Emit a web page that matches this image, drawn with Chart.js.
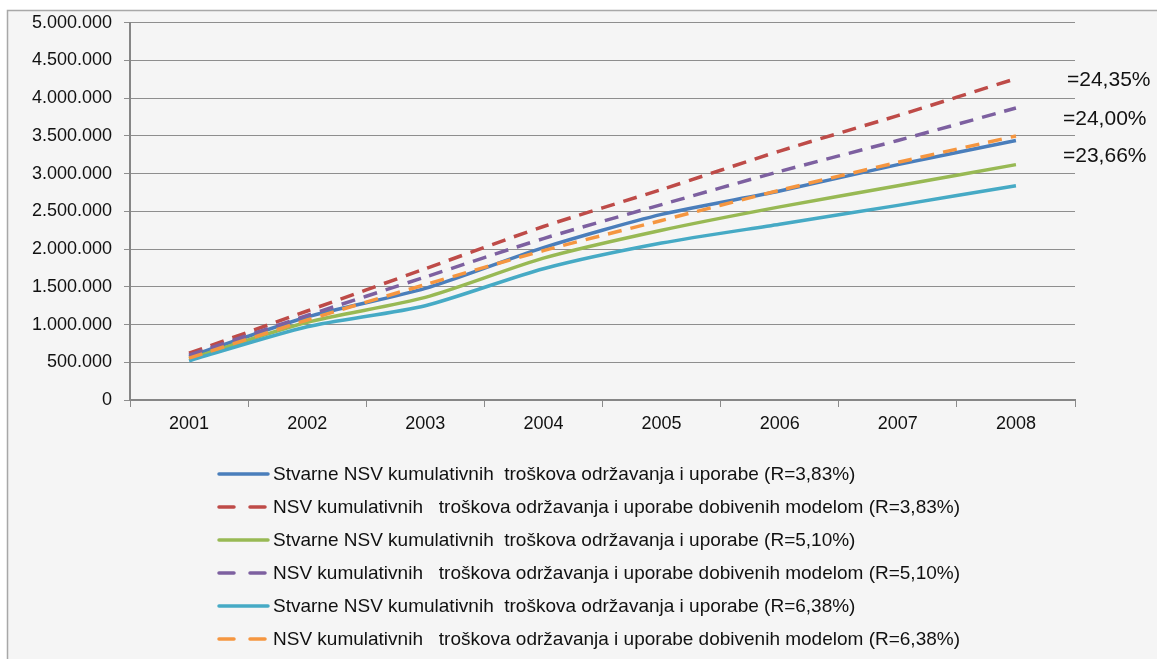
<!DOCTYPE html>
<html>
<head>
<meta charset="utf-8">
<title>NSV kumulativnih troškova</title>
<script src="https://cdn.jsdelivr.net/npm/chart.js@4.4.1/dist/chart.umd.min.js"></script>
<style>
    html, body { margin: 0; padding: 0; background: #ffffff; }
    #wrap { position: relative; width: 1157px; height: 659px; overflow: hidden; }
</style>
</head>
<body>
<div id="wrap"><canvas id="nsv-chart" width="1157" height="659"></canvas></div>
<script>
// godine
const years = ['2001', '2002', '2003', '2004', '2005', '2006', '2007', '2008'];

// stvarne vrijednosti i vrijednosti dobivene modelom, po stopi R
const stvarne383 = [575000, 1100000, 1480000, 2020000, 2460000, 2770000, 3120000, 3440000];
const model383   = [620000, 1180000, 1740000, 2300000, 2790000, 3300000, 3770000, 4260000];
const stvarne510 = [545000, 1030000, 1360000, 1880000, 2250000, 2560000, 2840000, 3120000];
const model510   = [595000, 1120000, 1630000, 2140000, 2590000, 3030000, 3440000, 3870000];
const stvarne638 = [520000, 970000, 1250000, 1740000, 2080000, 2330000, 2580000, 2840000];
const model638   = [555000, 1060000, 1530000, 1980000, 2380000, 2780000, 3150000, 3500000];

const seriesLabels = [
    'Stvarne NSV kumulativnih  troškova održavanja i uporabe (R=3,83%)',
    'NSV kumulativnih   troškova održavanja i uporabe dobivenih modelom (R=3,83%)',
    'Stvarne NSV kumulativnih  troškova održavanja i uporabe (R=5,10%)',
    'NSV kumulativnih   troškova održavanja i uporabe dobivenih modelom (R=5,10%)',
    'Stvarne NSV kumulativnih  troškova održavanja i uporabe (R=6,38%)',
    'NSV kumulativnih   troškova održavanja i uporabe dobivenih modelom (R=6,38%)'
];

// razlike na kraju razdoblja
const diffLabels = ['=24,35%', '=24,00%', '=23,66%'];

const yTicks = [0, 500000, 1000000, 1500000, 2000000, 2500000, 3000000, 3500000, 4000000, 4500000, 5000000];

const FONT = '"Liberation Sans", Arial, sans-serif';
const colors = ['#4a7ebb', '#be4b48', '#98b954', '#7d60a0', '#46aac5', '#f59640'];
const DASH = [14, 9];

function fmt(v) {
    return String(v).replace(/\B(?=(\d{3})+(?!\d))/g, '.');
}

const allData = [stvarne383, model383, stvarne510, model510, stvarne638, model638];

const datasets = allData.map(function (d, i) {
    const dashed = i % 2 === 1;
    return {
        label: seriesLabels[i],
        data: d,
        borderColor: colors[i],
        backgroundColor: colors[i],
        borderWidth: 3.5,
        borderDash: dashed ? DASH : [],
        pointRadius: 0,
        tension: 0.25,
        fill: false,
        order: 5 - i
    };
});

// okvir i pozadina grafikona
const framePlugin = {
    id: 'frame',
    beforeDraw(chart) {
        const ctx = chart.ctx;
        ctx.save();
        ctx.fillStyle = '#ffffff';
        ctx.fillRect(0, 0, chart.width, chart.height);
        ctx.fillStyle = '#f5f5f5';
        ctx.fillRect(7, 10, chart.width, chart.height);
        ctx.strokeStyle = '#a8a8a8';
        ctx.lineWidth = 1.5;
        ctx.beginPath();
        ctx.moveTo(7.5, chart.height);
        ctx.lineTo(7.5, 10.5);
        ctx.lineTo(chart.width, 10.5);
        ctx.stroke();
        ctx.restore();
    }
};

// legenda u jednom stupcu ispod grafikona
const legendPlugin = {
    id: 'columnLegend',
    afterDraw(chart) {
        const ctx = chart.ctx;
        ctx.save();
        ctx.font = '19px ' + FONT;
        ctx.textBaseline = 'middle';
        chart.data.datasets.forEach(function (ds, i) {
            const y = 474 + i * 33;
            ctx.strokeStyle = ds.borderColor;
            ctx.lineWidth = 3.5;
            ctx.lineCap = 'round';
            ctx.setLineDash(ds.borderDash.length ? [15, 16] : []);
            ctx.beginPath();
            ctx.moveTo(219, y);
            ctx.lineTo(268, y);
            ctx.stroke();
            ctx.setLineDash([]);
            ctx.fillStyle = '#111111';
            ctx.fillText(ds.label, 273, y + 1);
        });
        ctx.restore();
    }
};

// postoci uz krajeve krivulja
const diffPlugin = {
    id: 'diffText',
    afterDraw(chart) {
        const ctx = chart.ctx;
        const right = chart.chartArea.right;
        const pos = [[right - 8, 80], [right - 12, 119], [right - 12, 156]];
        ctx.save();
        ctx.font = '21px ' + FONT;
        ctx.fillStyle = '#111111';
        ctx.textBaseline = 'middle';
        diffLabels.forEach(function (t, i) {
            ctx.fillText(t, pos[i][0], pos[i][1]);
        });
        ctx.restore();
    }
};

new Chart(document.getElementById('nsv-chart'), {
    type: 'line',
    data: {
        labels: years,
        datasets: datasets
    },
    options: {
        responsive: false,
        animation: false,
        layout: {
            padding: { left: 30, right: 82, top: 21, bottom: 199 }
        },
        plugins: {
            legend: { display: false },
            tooltip: { enabled: false }
        },
        scales: {
            x: {
                offset: true,
                grid: {
                    offset: true,
                    drawOnChartArea: false,
                    drawTicks: true,
                    tickLength: 7,
                    color: '#8a8a8a',
                    lineWidth: 1
                },
                border: { color: '#868686', width: 2 },
                ticks: {
                    color: '#111111',
                    font: { family: FONT, size: 18 },
                    padding: 6,
                    maxRotation: 0
                },
                afterFit(scale) { scale.height = 60; }
            },
            y: {
                min: 0,
                max: 5000000,
                afterBuildTicks(scale) {
                    scale.ticks = yTicks.map(function (v) { return { value: v }; });
                },
                grid: {
                    color: '#8e8e8e',
                    lineWidth: 1,
                    tickLength: 6
                },
                border: { color: '#868686', width: 2 },
                ticks: {
                    color: '#111111',
                    font: { family: FONT, size: 18 },
                    padding: 12,
                    callback: function (v) { return fmt(v); }
                },
                afterFit(scale) { scale.width = 100; }
            }
        }
    },
    plugins: [framePlugin, legendPlugin, diffPlugin]
});
</script>
</body>
</html>
